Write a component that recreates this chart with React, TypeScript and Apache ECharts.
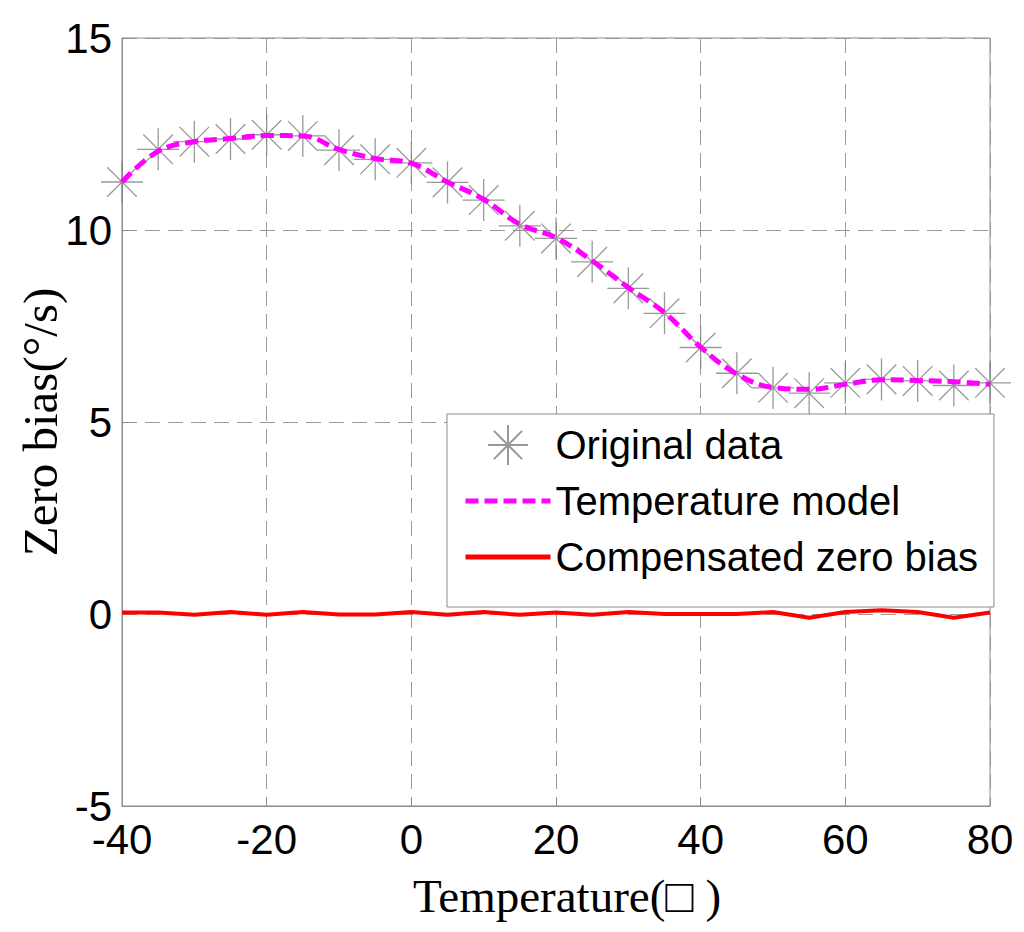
import React, { useEffect, useRef } from "react";
import * as echarts from "echarts";

const temps = [-40, -35, -30, -25, -20, -15, -10, -5, 0, 5, 10, 15, 20, 25, 30, 35, 40, 45, 50, 55, 60, 65, 70, 75, 80];
const originalData = [11.25, 12.1, 12.3, 12.37, 12.48, 12.45, 12.08, 11.84, 11.75, 11.24, 10.78, 10.11, 9.78, 9.17, 8.48, 7.83, 6.94, 6.27, 5.89, 5.75, 6.02, 6.11, 6.07, 5.95, 6.02];
const modelData = [11.25, 12.05, 12.3, 12.38, 12.46, 12.45, 12.1, 11.86, 11.74, 11.25, 10.8, 10.15, 9.8, 9.2, 8.5, 7.85, 6.95, 6.25, 5.9, 5.85, 5.98, 6.1, 6.08, 6.05, 5.98];
const compensated = [0.04, 0.04, -0.02, 0.05, -0.02, 0.05, -0.01, -0.01, 0.05, -0.02, 0.05, -0.02, 0.04, -0.02, 0.05, 0, 0, 0, 0.05, -0.1, 0.05, 0.1, 0.05, -0.1, 0.04];

const seriesNames = ["Original data", "Temperature model", "Compensated zero bias"];
const xTitle = "Temperature(\u25A1 )";
const yTitle = "Zero bias(\u00B0/s)";

const STAR = "path://M21,0L21,42M0,21L42,21M6.2,6.2L35.8,35.8M6.2,35.8L35.8,6.2";

export default function App() {
  const ref = useRef<HTMLDivElement>(null);
  useEffect(() => {
    if (!ref.current) return;
    const chart = echarts.init(ref.current, undefined, { renderer: "svg" });
    const gridLine = { show: true, lineStyle: { color: "#9a9a9a", type: [15, 8] as any, width: 1 } };
    const dashModel = [13, 6];
    const hiddenSymbol = { color: "rgba(0,0,0,0)", borderColor: "rgba(0,0,0,0)", borderWidth: 0, opacity: 0 };
    chart.setOption({
      animation: false,
      backgroundColor: "#ffffff",
      grid: {
        left: 122,
        right: 34,
        top: 38,
        bottom: 126,
        containLabel: false,
        outerBoundsMode: "none",
        show: true,
        borderColor: "#8c8c8c",
        borderWidth: 1,
        backgroundColor: "transparent",
      },
      xAxis: {
        type: "value",
        min: -40,
        max: 80,
        interval: 20,
        name: xTitle,
        nameLocation: "middle",
        nameGap: 66,
        nameTextStyle: { fontFamily: "Liberation Serif", fontSize: 47, color: "#000", padding: [0, 0, 0, 22] },
        axisLine: { show: true, onZero: false, lineStyle: { color: "#8c8c8c" } },
        axisTick: { show: true, inside: true, length: 8, lineStyle: { color: "#8c8c8c" } },
        axisLabel: { fontFamily: "Liberation Sans", fontSize: 42, color: "#000", margin: 12 },
        splitLine: gridLine,
      },
      yAxis: {
        type: "value",
        min: -5,
        max: 15,
        interval: 5,
        name: yTitle,
        nameLocation: "middle",
        nameGap: 57,
        nameMoveOverlap: false,
        nameTextStyle: { fontFamily: "Liberation Serif", fontSize: 49, color: "#000" },
        axisLine: { show: true, onZero: false, lineStyle: { color: "#8c8c8c" } },
        axisTick: { show: true, inside: true, length: 8, lineStyle: { color: "#8c8c8c" } },
        axisLabel: { fontFamily: "Liberation Sans", fontSize: 42, color: "#000", margin: 10 },
        splitLine: gridLine,
      },
      legend: {
        orient: "vertical",
        left: 447,
        top: 414,
        padding: [10, 16, 29, 16],
        itemGap: 14,
        itemWidth: 85,
        itemHeight: 40,
        backgroundColor: "#ffffff",
        borderColor: "#8c8c8c",
        borderWidth: 1,
        borderRadius: 0,
        textStyle: { fontFamily: "Liberation Sans", fontSize: 40, color: "#000", lineHeight: 42 },
        data: [
          { name: seriesNames[0], icon: STAR },
          { name: seriesNames[1], icon: "inherit", itemStyle: hiddenSymbol, lineStyle: { width: 5, type: dashModel, color: "#ff00ff" } },
          { name: seriesNames[2], icon: "inherit", itemStyle: hiddenSymbol, lineStyle: { width: 5, color: "#ff0000" } },
        ],
      },
      series: [
        {
          name: seriesNames[0],
          type: "scatter",
          symbol: STAR,
          symbolSize: 42,
          data: temps.map((t, i) => [t, originalData[i]]),
          itemStyle: { color: "transparent", borderColor: "#808080", borderWidth: 1.3 },
          z: 2,
        },
        {
          name: seriesNames[1],
          type: "line",
          smooth: 0.4,
          showSymbol: false,
          symbol: "none",
          data: temps.map((t, i) => [t, modelData[i]]),
          lineStyle: { color: "#ff00ff", width: 5, type: dashModel as any },
          itemStyle: { color: "#ff00ff" },
          z: 3,
        },
        {
          name: seriesNames[2],
          type: "line",
          showSymbol: false,
          symbol: "none",
          data: temps.map((t, i) => [t, compensated[i]]),
          lineStyle: { color: "#ff0000", width: 4 },
          itemStyle: { color: "#ff0000" },
          z: 3,
        },
      ],
    });
    return () => chart.dispose();
  }, []);
  return (
    <div
      ref={ref}
      style={{ position: "fixed", left: 0, top: 0, width: 1024, height: 932, background: "#fff" }}
    />
  );
}
